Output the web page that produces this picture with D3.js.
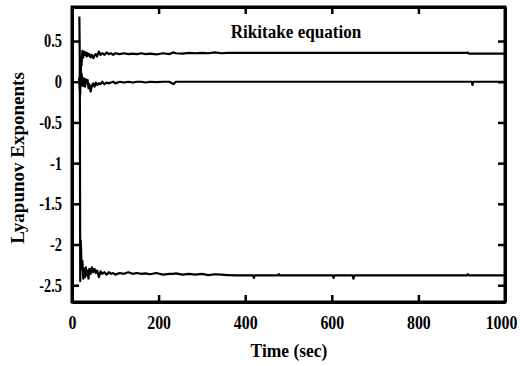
<!DOCTYPE html>
<html>
<head>
<meta charset="utf-8">
<script src="https://cdn.jsdelivr.net/npm/d3@7/dist/d3.min.js"></script>
<style>
  html, body { margin: 0; padding: 0; background: #fff; }
  svg { display: block; }
</style>
</head>
<body>
<svg id="chart" width="520" height="366"></svg>
<script>
// ---- data ----
const time = [17,18,19,20,21,22,24,26,28,30,32,34,36,38,40,43,46,49,52,55,58,62,66,70,75,80,85,90,95,100,
  110,120,130,140,150,160,170,180,195,210,225,234,240,255,270,285,300,315,330,345,360,380,
  418,420,422,476,478,480,602,604,606,648,650,652,912,914,916,923,925,927,1000];

const exponent1 = [0.05,-0.10,0.25,0.05,0.30,0.20,0.38,0.30,0.37,0.33,0.36,0.31,0.35,0.32,0.34,0.30,0.33,0.29,0.32,0.34,0.31,0.37,0.33,0.35,0.33,0.36,0.34,0.35,0.33,0.35,
  0.34,0.35,0.34,0.345,0.34,0.35,0.34,0.345,0.335,0.35,0.34,0.36,0.35,0.345,0.355,0.35,0.355,0.35,0.36,0.35,0.355,0.355,
  0.355,0.355,0.355,0.355,0.355,0.355,0.355,0.355,0.355,0.355,0.355,0.355,0.355,0.36,0.345,0.345,0.345,0.345,0.345];

const exponent2 = [0.00,0.05,-0.15,0.15,-0.05,0.10,0.02,-0.05,0.04,-0.06,0.03,-0.02,0.02,-0.08,-0.03,-0.12,-0.05,-0.02,-0.06,-0.01,-0.04,-0.02,-0.03,0.00,-0.03,-0.01,-0.02,-0.01,0.00,-0.02,
  0.00,-0.01,0.00,-0.01,0.00,0.00,-0.01,0.00,-0.005,0.00,0.00,-0.03,0.00,0.00,0.00,0.00,0.00,0.00,0.00,0.00,0.00,0.00,
  0.00,0.00,0.00,0.00,0.00,0.00,0.00,0.00,0.00,0.00,0.00,0.00,0.00,0.00,0.00,0.00,-0.04,0.00,0.00];

const exponent3 = [0.80,0.30,-2.45,-1.95,-2.05,-2.30,-2.20,-2.42,-2.30,-2.40,-2.28,-2.38,-2.32,-2.42,-2.30,-2.36,-2.28,-2.34,-2.30,-2.35,-2.32,-2.40,-2.33,-2.36,-2.34,-2.37,-2.34,-2.36,-2.35,-2.37,
  -2.35,-2.36,-2.34,-2.36,-2.35,-2.36,-2.355,-2.365,-2.35,-2.37,-2.36,-2.36,-2.355,-2.37,-2.36,-2.37,-2.36,-2.375,-2.365,-2.37,-2.375,-2.38,
  -2.38,-2.41,-2.38,-2.38,-2.365,-2.38,-2.38,-2.41,-2.38,-2.38,-2.42,-2.38,-2.38,-2.365,-2.38,-2.38,-2.38,-2.38,-2.38];

const xTickValues = [0, 200, 400, 600, 800, 1000];
const xTickLabels = ["0", "200", "400", "600", "800", "1000"];
const yTickValues = [0.5, 0, -0.5, -1, -1.5, -2, -2.5];
const yTickLabels = ["0.5", "0", "-0.5", "-1", "-1.5", "-2", "-2.5"];

const titleText = "Rikitake equation";
const xLabelText = "Time (sec)";
const yLabelText = "Lyapunov Exponents";

// ---- layout ----
const FONT = "'Liberation Serif', 'DejaVu Serif', serif";
const mLeft = 72, mRight = 505, mTop = 7, mBottom = 302;
const svg = d3.select("#chart");

const x = d3.scaleLinear().domain([0, 1000]).range([mLeft, mRight]);
const y = d3.scaleLinear().domain([-2.706, 0.918]).range([mBottom, mTop]);

const tick = 7;

const gB = svg.append("g").attr("transform", `translate(0,${mBottom})`)
  .call(d3.axisBottom(x).tickValues(xTickValues).tickSizeInner(-tick).tickSizeOuter(0).tickPadding(14)
    .tickFormat((d, i) => xTickLabels[i]));
const gT = svg.append("g").attr("transform", `translate(0,${mTop})`)
  .call(d3.axisTop(x).tickValues(xTickValues).tickSizeInner(-tick).tickSizeOuter(0).tickFormat(""));
const gL = svg.append("g").attr("transform", `translate(${mLeft},0)`)
  .call(d3.axisLeft(y).tickValues(yTickValues).tickSizeInner(-tick).tickSizeOuter(0).tickPadding(10)
    .tickFormat((d, i) => yTickLabels[i]));
const gR = svg.append("g").attr("transform", `translate(${mRight},0)`)
  .call(d3.axisRight(y).tickValues(yTickValues).tickSizeInner(-tick).tickSizeOuter(0).tickFormat(""));

[gB, gT, gL, gR].forEach(g => {
  g.attr("font-family", FONT).attr("font-size", 18).attr("font-weight", "bold");
  g.select(".domain").attr("stroke", "#000").attr("stroke-width", 3);
  g.selectAll(".tick line").attr("stroke", "#000").attr("stroke-width", 2.5);
});

const sx = 0.8;
gL.selectAll(".tick text")
  .attr("x", -10 / sx)
  .attr("dy", "0.33em")
  .attr("transform", `scale(${sx},1)`)
  .attr("fill", "#000")
  .style("font-family", FONT).style("font-weight", "bold").style("font-size", "18px");

const sxb = 0.88;
gB.selectAll(".tick text")
  .attr("dy", "0.71em")
  .attr("x", (d, i) => (i === xTickValues.length - 1 ? -4 : 0) / sxb)
  .attr("transform", `scale(${sxb},1)`)
  .attr("fill", "#000")
  .style("font-family", FONT).style("font-weight", "bold").style("font-size", "18px");

// frame
svg.append("rect").attr("x", mLeft).attr("y", mTop).attr("width", mRight - mLeft).attr("height", mBottom - mTop)
  .attr("fill", "none").attr("stroke", "#000").attr("stroke-width", 3);

// ---- lines ----
const line = d3.line().x((d, i) => x(time[i])).y(d => y(d));
[exponent1, exponent2, exponent3].forEach(s => {
  svg.append("path").datum(s).attr("d", line)
    .attr("fill", "none").attr("stroke", "#000").attr("stroke-width", 2.2).attr("stroke-linejoin", "round");
});

// ---- titles ----
function label(tf, txt) {
  svg.append("text").attr("transform", tf)
    .attr("text-anchor", "middle")
    .style("font-family", FONT).style("font-weight", "bold").style("font-size", "19px")
    .attr("fill", "#000").text(txt);
}
label("translate(296,38) scale(0.9,1)", titleText);
label("translate(289,357) scale(0.92,1)", xLabelText);
label("translate(24,158) rotate(-90)", yLabelText);
</script>
</body>
</html>
